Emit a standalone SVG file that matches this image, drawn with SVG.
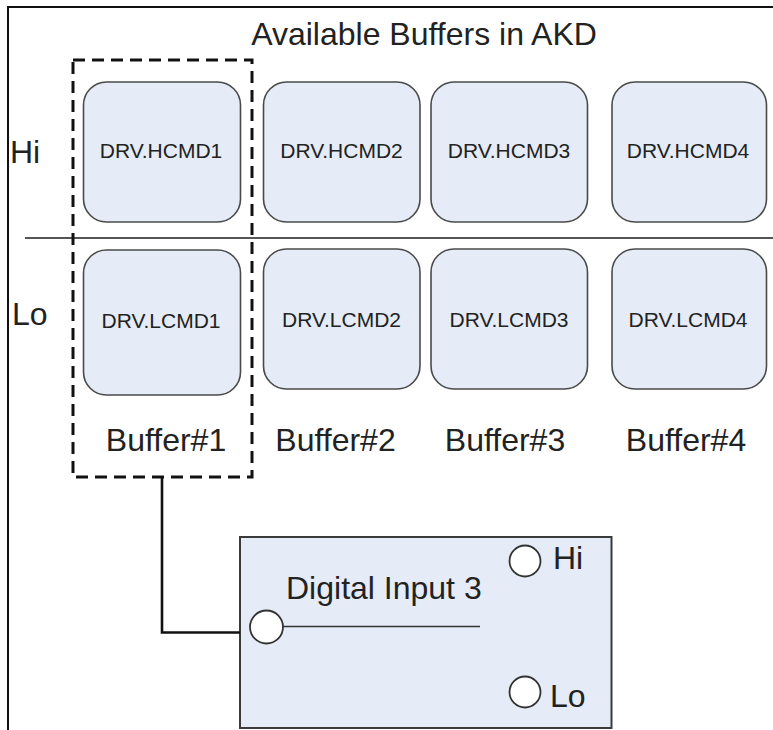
<svg xmlns="http://www.w3.org/2000/svg" width="773" height="730" viewBox="0 0 773 730">
<style>
text{font-family:"Liberation Sans",Arial,sans-serif;fill:#222}
.big{font-size:32px}
.cmd{font-size:21px;text-anchor:middle}
.buf{fill:#e5ecf7;stroke:#4a4a4a;stroke-width:1.6}
.mid{text-anchor:middle}
.port{fill:#fff;stroke:#333;stroke-width:1.8}
</style>
<rect width="773" height="730" fill="#fff"/>
<g id="frame" fill="none" stroke="#111" stroke-width="2">
<polyline points="773,7 8,7 8,730"/>
</g>
<line id="divider" x1="25" y1="238" x2="773" y2="238" stroke="#555" stroke-width="2"/>
<text id="title" class="big mid" x="424" y="45">Available Buffers in AKD</text>
<text id="hi-label" class="big" x="10" y="163">Hi</text>
<text id="lo-label" class="big" x="12" y="325">Lo</text>
<g id="hcmd1"><rect class="buf" x="83.5" y="82" width="157" height="140" rx="23"/><text class="cmd" x="161" y="158">DRV.HCMD1</text></g>
<g id="hcmd2"><rect class="buf" x="263.5" y="82" width="156.5" height="140" rx="23"/><text class="cmd" x="341.5" y="158">DRV.HCMD2</text></g>
<g id="hcmd3"><rect class="buf" x="431" y="82" width="156.5" height="140" rx="23"/><text class="cmd" x="509" y="158">DRV.HCMD3</text></g>
<g id="hcmd4"><rect class="buf" x="612" y="82" width="154.5" height="140" rx="23"/><text class="cmd" x="688" y="158">DRV.HCMD4</text></g>
<g id="lcmd1"><rect class="buf" x="83.5" y="250" width="157" height="145" rx="23"/><text class="cmd" x="161" y="328">DRV.LCMD1</text></g>
<g id="lcmd2"><rect class="buf" x="263.5" y="249" width="156.5" height="140" rx="23"/><text class="cmd" x="341.5" y="326.5">DRV.LCMD2</text></g>
<g id="lcmd3"><rect class="buf" x="431" y="249" width="156.5" height="140" rx="23"/><text class="cmd" x="509" y="326.5">DRV.LCMD3</text></g>
<g id="lcmd4"><rect class="buf" x="612" y="249" width="154.5" height="140" rx="23"/><text class="cmd" x="688" y="326.5">DRV.LCMD4</text></g>
<text id="buffer1" class="big mid" x="166" y="451">Buffer#1</text>
<text id="buffer2" class="big mid" x="335.5" y="451">Buffer#2</text>
<text id="buffer3" class="big mid" x="505" y="451">Buffer#3</text>
<text id="buffer4" class="big mid" x="686" y="451">Buffer#4</text>
<g id="buffer1-select"><rect x="73" y="60" width="179" height="417" fill="none" stroke="#111" stroke-width="3" stroke-dasharray="12,7"/></g>
<g id="digital-input-3">
<rect x="240" y="537" width="371.5" height="191" fill="#e5ecf7" stroke="#3a3a3a" stroke-width="2"/>
<text class="big" x="286" y="599">Digital Input 3</text>
<line x1="283" y1="626.5" x2="480" y2="626.5" stroke="#333" stroke-width="1.5"/>
<circle class="port" cx="266.5" cy="627" r="16.5"/>
<circle class="port" cx="525" cy="561" r="15.5"/>
<text class="big" x="553" y="569">Hi</text>
<circle class="port" cx="525" cy="692" r="15.5"/>
<text class="big" x="550" y="707">Lo</text>
</g>
<g id="connectors">
<polyline points="162,477 162,632.5 240,632.5" fill="none" stroke="#111" stroke-width="2.6"/>
</g>
</svg>
